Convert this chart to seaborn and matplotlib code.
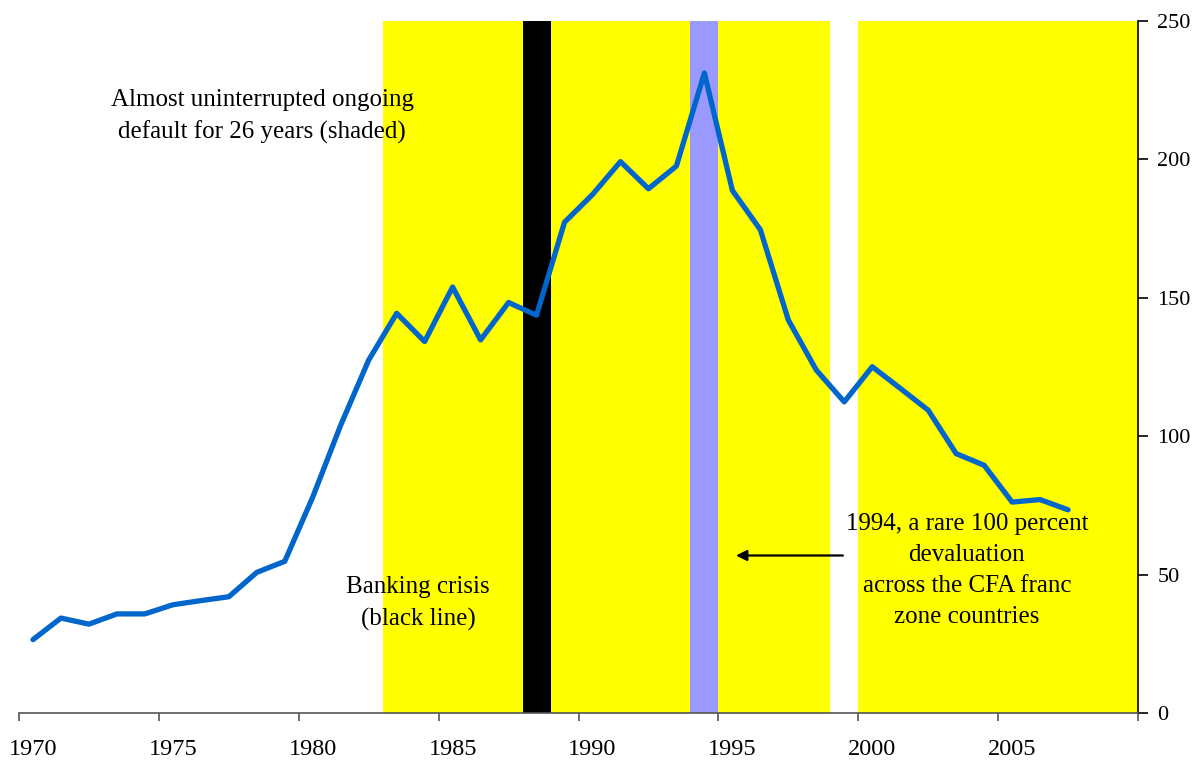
import numpy as np
import pandas as pd
import matplotlib
matplotlib.use("Agg")
import matplotlib.pyplot as plt
import seaborn as sns

# ---- data ----
years = list(range(1970, 2008))
debt = [26.5, 34.3, 32.1, 35.8, 35.8, 39.1, 40.6, 42.0, 50.8, 54.8,
        78.0, 104.0, 127.5, 144.4, 134.2, 153.9, 134.8, 148.3, 143.7, 177.3,
        187.3, 199.2, 189.4, 197.6, 231.2, 188.8, 174.6, 142.0, 123.9, 112.4,
        125.1, 117.3, 109.4, 93.7, 89.5, 76.2, 77.1, 73.4]
default_years = list(range(1983, 1999)) + list(range(2000, 2010))
banking_crisis_years = [1988]
devaluation_years = [1994]
x_tick_years = list(range(1970, 2011, 5))
x_label_years = list(range(1970, 2006, 5))
y_ticks = [0, 50, 100, 150, 200, 250]

sns.set_theme(style="white")
plt.rcParams["font.family"] = ["Liberation Serif", "DejaVu Serif"]
plt.rcParams["text.color"] = "black"
plt.rcParams["xtick.color"] = "black"
plt.rcParams["ytick.color"] = "black"

fig = plt.figure(figsize=(11.96, 7.62), dpi=100)
ax = fig.add_axes([19 / 1196, 49 / 762, (1138 - 19) / 1196, (713 - 21) / 762])

ymax = y_ticks[-1]
ax.bar(default_years, ymax, width=1.0, align="edge", color="#FFFF00", linewidth=0, zorder=1)
ax.bar(banking_crisis_years, ymax, width=1.0, align="edge", color="#000000", linewidth=0, zorder=2)
ax.bar(devaluation_years, ymax, width=1.0, align="edge", color="#9999FF", linewidth=0, zorder=2)

df = pd.DataFrame({"year": np.array(years) + 0.5, "debt": debt})
sns.lineplot(data=df, x="year", y="debt", ax=ax, color="#0066CC", linewidth=3.8, zorder=3)

ax.set_xlim(x_tick_years[0], x_tick_years[-1])
ax.set_ylim(0, ymax)
ax.set_xlabel("")
ax.set_ylabel("")

# x axis: ticks at boundaries, labels centred in category
ax.set_xticks(x_tick_years)
ax.set_xticklabels([])
ax.set_xticks([y + 0.5 for y in x_label_years], minor=True)
ax.set_xticklabels([str(y) for y in x_label_years], minor=True, fontsize=17.5)
ax.tick_params(axis="x", which="major", direction="out", length=6, width=1.2,
               color="#555555", bottom=True)
ax.tick_params(axis="x", which="minor", length=0, pad=18.5, bottom=True, labelcolor="black")

# y axis on right
ax.yaxis.tick_right()
ax.set_yticks(y_ticks)
ax.set_yticklabels([str(v) for v in y_ticks], fontsize=16)
ax.tick_params(axis="y", which="major", direction="out", length=7, width=1.2,
               color="black", right=True, left=False, pad=7, labelcolor="black")

for s in ["left", "top"]:
    ax.spines[s].set_visible(False)
ax.spines["bottom"].set_color("#555555")
ax.spines["bottom"].set_linewidth(1.2)
ax.spines["right"].set_color("black")
ax.spines["right"].set_linewidth(1.2)
ax.grid(False)
ax.set_facecolor("white")

ls = 1.53
ax.text(1978.69, 215.6, "Almost uninterrupted ongoing\ndefault for 26 years (shaded)",
        ha="center", va="center", fontsize=18, linespacing=ls, color="black", zorder=5)
ax.text(1984.26, 39.5, "Banking crisis\n(black line)",
        ha="center", va="center", fontsize=18, linespacing=ls, color="black", zorder=5)
ax.text(2003.88, 51.4, "1994, a rare 100 percent\ndevaluation\nacross the CFA franc\nzone countries",
        ha="center", va="center", fontsize=18, linespacing=ls, color="black", zorder=5)
ax.annotate("", xy=(1995.53, 56.9), xytext=(1999.55, 56.9),
            arrowprops=dict(arrowstyle="-|>", color="black", lw=1.6, mutation_scale=16), zorder=5)

fig.savefig("out.png", dpi=100)
